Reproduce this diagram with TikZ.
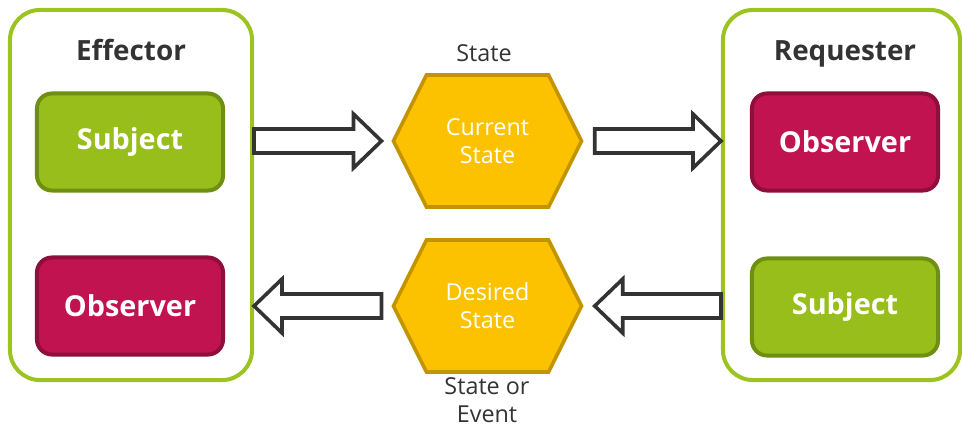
\documentclass[tikz,border=0pt]{standalone}
\usepackage{fontspec}
\setmainfont{Open Sans}
\usetikzlibrary{shapes.symbols,calc}

\definecolor{framegreen}{HTML}{9CC31E}
\definecolor{leafgreen}{HTML}{97BE1A}
\definecolor{leafedge}{HTML}{6E8F12}
\definecolor{berry}{HTML}{C0134F}
\definecolor{berryedge}{HTML}{8F0E3B}
\definecolor{gold}{HTML}{FCC200}
\definecolor{goldedge}{HTML}{C29500}
\definecolor{ink}{HTML}{333333}

\tikzset{
  frame/.style={draw=framegreen, line width=0.1cm, rounded corners=0.75cm, fill=white},
  title/.style={text=ink, anchor=base, font=\bfseries\fontsize{19.8}{24}\selectfont},
  role/.style={line width=0.1cm, rounded corners=0.375cm, minimum width=4.65cm,
    minimum height=2.425cm, text=white, font=\bfseries\fontsize{20.5}{24}\selectfont},
  subj/.style={role, fill=leafgreen, draw=leafedge},
  obs/.style={role, fill=berry, draw=berryedge},
  hexa/.style={signal, signal to=east and west, signal pointer angle=126.87,
    minimum width=4.7cm, minimum height=3.3cm,
    inner sep=0pt, fill=gold, draw=goldedge, line width=0.09cm, text=white,
    align=center, font=\fontsize{16.6}{19.8}\selectfont},
  note/.style={text=ink, align=center, anchor=base, inner sep=0pt,
    font=\fontsize{16.6}{19.8}\selectfont},
  bigarrow/.style={draw=ink, fill=white, line width=0.09cm, line join=miter}
}

% hollow block arrow from #1 to #2 (horizontal)
\newcommand{\hollowarrow}[2]{%
  \draw[bigarrow] let \p1=(#1), \p2=(#2), \n1={sign(\x2-\x1)} in
    (\x1,\y1+0.3cm) -- (\x2-\n1*0.7cm,\y1+0.3cm) -- (\x2-\n1*0.7cm,\y1+0.675cm)
    -- (\x2,\y1) -- (\x2-\n1*0.7cm,\y1-0.675cm) -- (\x2-\n1*0.7cm,\y1-0.3cm)
    -- (\x1,\y1-0.3cm) -- cycle;}

\begin{document}
\begin{tikzpicture}[x=0.025cm, y=-0.025cm]
  \useasboundingbox (0,0) rectangle (962,426);

  % Effector
  \node[frame, minimum width=6.05cm, minimum height=9.25cm] (lbox) at (131,195) {};
  \node[title] (effector) at (131,61) {Effector};
  \node[subj] (lsubj) at (130,142) {Subject};
  \node[obs] (lobs) at (130,306) {Observer};

  % Requester
  \node[frame, minimum width=5.925cm, minimum height=9.25cm] (rbox) at (841.5,195) {};
  \node[title] (requester) at (845,61) {Requester};
  \node[obs] (robs) at (845,142) {Observer};
  \node[subj] (rsubj) at (845,307) {Subject};

  % States
  \node[hexa] (cur) at (487.5,141) {Current\\State};
  \node[hexa] (des) at (487.5,306) {Desired\\State};
  \node[note] (curlabel) at (484,62) {State};
  \node[note] (deslabel) at (487,422) {State or\\Event};

  % Flows
  \hollowarrow{lbox.east |- cur.west}{$(cur.west)+(-0.25cm,0)$}
  \hollowarrow{$(cur.east)+(0.28cm,0)$}{rbox.west |- cur.east}
  \hollowarrow{rbox.west |- des.east}{$(des.east)+(0.28cm,0)$}
  \hollowarrow{$(des.west)+(-0.25cm,0)$}{lbox.east |- des.west}

\end{tikzpicture}
\end{document}
